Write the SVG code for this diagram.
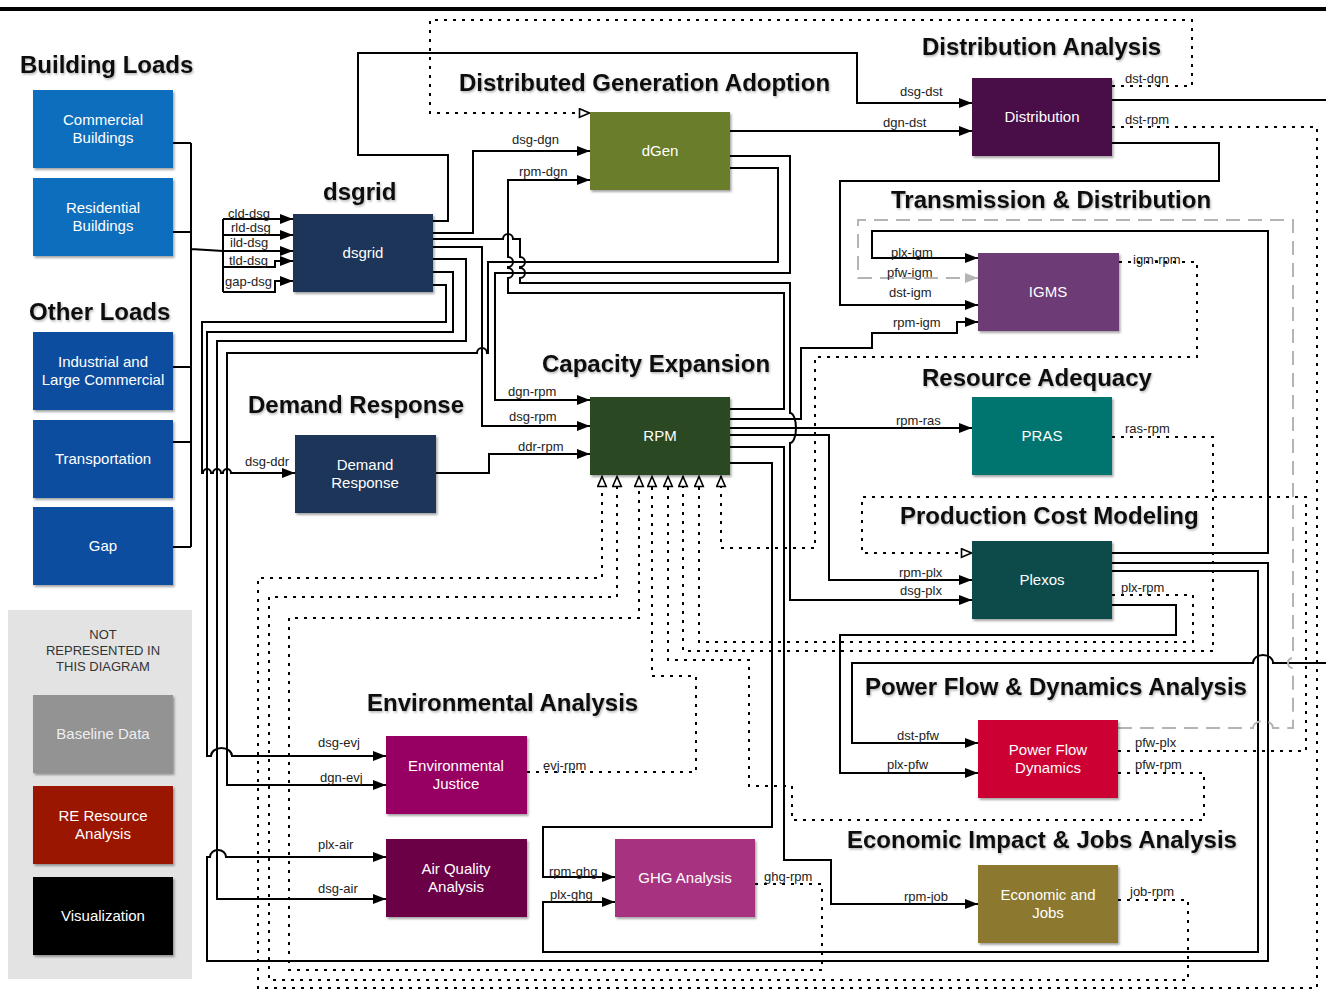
<svg xmlns="http://www.w3.org/2000/svg" width="1326" height="992" viewBox="0 0 1326 992">
<defs>
<style>
.c{fill:none;stroke:#000;stroke-width:2;stroke-linejoin:miter}
.s{marker-end:url(#ah)}
.d{stroke-dasharray:3 6;marker-end:url(#oh)}
.g{stroke:#b4b4b4;stroke-dasharray:14 8;marker-end:url(#gh)}
.lbl{font-family:"Liberation Sans",Arial,sans-serif;font-size:13px;fill:#222}
.ttl{font-family:"Liberation Sans",Arial,sans-serif;font-size:24px;font-weight:bold;fill:#111;filter:url(#ts)}
.nt{font-family:"Liberation Sans",Arial,sans-serif;font-size:15px;fill:#fff;text-anchor:middle}
.box{filter:url(#ds)}
.leg{font-family:"Liberation Sans",Arial,sans-serif;font-size:13px;fill:#333;text-anchor:middle}
</style>
<marker id="ah" markerUnits="userSpaceOnUse" markerWidth="14" markerHeight="12" viewBox="0 0 14 12" refX="13" refY="6" orient="auto"><path d="M0,1 L13,6 L0,11 z" fill="#000"/></marker>
<marker id="oh" markerUnits="userSpaceOnUse" markerWidth="13" markerHeight="11" viewBox="0 0 13 11" refX="12" refY="5.5" orient="auto"><path d="M1.5,1.2 L11.5,5.5 L1.5,9.8 z" fill="#fff" stroke="#000" stroke-width="1.6"/></marker>
<marker id="gh" markerUnits="userSpaceOnUse" markerWidth="14" markerHeight="12" viewBox="0 0 14 12" refX="13" refY="6" orient="auto"><path d="M0,1 L13,6 L0,11 z" fill="#b4b4b4"/></marker>
<filter id="ds" x="-10%" y="-10%" width="125%" height="130%"><feDropShadow dx="1.5" dy="2" stdDeviation="1.2" flood-color="#000" flood-opacity="0.35"/></filter>
<filter id="ts" x="-5%" y="-20%" width="110%" height="150%"><feDropShadow dx="1" dy="1.5" stdDeviation="1" flood-color="#000" flood-opacity="0.3"/></filter>
</defs>
<rect x="0" y="0" width="1326" height="992" fill="#fff"/>
<line x1="0" y1="9" x2="1326" y2="9" stroke="#000" stroke-width="4"/>
<rect id="legend-panel" x="8" y="610" width="184" height="369" fill="#e3e3e3"/>

<g id="titles">
<text class="ttl" x="20" y="73">Building Loads</text>
<text class="ttl" x="29" y="320">Other Loads</text>
<text class="ttl" x="323" y="200">dsgrid</text>
<text class="ttl" x="459" y="91">Distributed Generation Adoption</text>
<text class="ttl" x="922" y="55">Distribution Analysis</text>
<text class="ttl" x="891" y="208">Transmission &amp; Distribution</text>
<text class="ttl" x="542" y="372">Capacity Expansion</text>
<text class="ttl" x="248" y="413">Demand Response</text>
<text class="ttl" x="922" y="386">Resource Adequacy</text>
<text class="ttl" x="900" y="524">Production Cost Modeling</text>
<text class="ttl" x="865" y="695">Power Flow &amp; Dynamics Analysis</text>
<text class="ttl" x="367" y="711">Environmental Analysis</text>
<text class="ttl" x="847" y="848">Economic Impact &amp; Jobs Analysis</text>
</g>

<g id="connectors">
<path class="c" d="M173,143 H191 M173,232 H191 M173,367 H191 M173,442 H191 M173,547 H191 M191,143 V547 M191,249 L223,251 M223,219 V292"/>
<path class="c s" d="M223,219 H293"/>
<path class="c s" d="M223,235 H293"/>
<path class="c s" d="M223,251 H293"/>
<path class="c s" d="M223,267 H275 V261 H293"/>
<path class="c s" d="M223,292 H275 V281 H293"/>
<path class="c s" d="M432,221 H448 V155 H358 V53 H857 V103 H972"/>
<path class="c s" d="M432,233 H473 V151 H590"/>
<path class="c s" d="M432,239 H503 A5,5 0 0 1 513,239 H520 V257 A5,5 0 0 1 520,267 V268 A5,5 0 0 1 520,278 V283 H790 V413 A6,15 0 0 1 790,443 V600 H972"/>
<path class="c s" d="M432,247 H482 V426 H590"/>
<path class="c s" d="M432,259 H466 V341 H217 V899 H386"/>
<path class="c s" d="M432,272 H453 V332 H207 V756 H211 A10.5,8 0 0 1 232,756 H386"/>
<path class="c s" d="M432,285 H446 V322 H202 V473 H203 A4,4 0 0 1 211,473 H213 A4,4 0 0 1 221,473 H223 A4,4 0 0 1 231,473 H295"/>
<path class="c s" d="M730,131 H972"/>
<path class="c s" d="M730,156 H790 V273 H495 V400 H590"/>
<path class="c s" d="M730,168 H778 V262 H488 V353 H487 A5,5 0 0 0 477,353 H227 V785 H386"/>
<path class="c s" d="M730,409 H784 V293 H508 V278 A5,5 0 0 0 508,268 V267 A5,5 0 0 0 508,257 V180 H590"/>
<path class="c s" d="M730,419 H801 V348 H872 V333 H957 V322 H978"/>
<path class="c s" d="M730,428 H972"/>
<path class="c s" d="M730,435 H829 V580 H972"/>
<path class="c s" d="M730,447 H784 V860 H831 V904 H978"/>
<path class="c s" d="M730,463 H772 V827 H543 V877 H615"/>
<path class="c s" d="M436,473 H489 V454 H590"/>
<path class="c s" d="M1112,100 H1345 V663 H1273 A10,8 0 0 0 1253,663 H852 V743 H978"/>
<path class="c s" d="M1112,143 H1219 V181 H840 V305 H978"/>
<path class="c s" d="M1112,553 H1268 V231 H872 V258 H978"/>
<path class="c s" d="M1112,563 H1268 V961 H207 V857 H210 A8,7 0 0 1 226,857 H386"/>
<path class="c s" d="M1112,571 H1258 V952 H543 V902 H615"/>
<path class="c s" d="M1112,605 H1176 V635 H840 V773 H978"/>

<path class="c d" d="M1112,86 H1192 V20 H430 V113 H590"/>
<path class="c d" d="M1112,127 H1317 V988 H258 V578 H602 V476"/>
<path class="c d" d="M1119,262 H1197 V357 H815 V548 H721 V476"/>
<path class="c d" d="M1112,437 H1213 V651 H683 V476"/>
<path class="c d" d="M1112,595 H1193 V642 H699 V476"/>
<path class="c d" d="M1118,773 H1204 V820 H792 V786 H749 V660 H668 V476"/>
<path class="c d" d="M527,772 H696 V676 H652 V476"/>
<path class="c d" d="M755,884 H822 V970 H289 V618 H639 V476"/>
<path class="c d" d="M1118,900 H1188 V980 H269 V597 H617 V476"/>
<path class="c d" d="M1118,751 H1306 V497 H862 V553 H972"/>

<path class="c g" d="M1118,728 H1253 A10,7 0 0 1 1273,728 H1293 V668 A5,5 0 0 1 1293,658 V220 H858 V278 H978"/>

<g id="connector-labels">
<text class="lbl" x="228" y="218">cld-dsg</text>
<text class="lbl" x="231" y="232">rld-dsg</text>
<text class="lbl" x="230" y="247">ild-dsg</text>
<text class="lbl" x="229" y="265">tld-dsg</text>
<text class="lbl" x="225" y="286">gap-dsg</text>
<text class="lbl" x="512" y="144">dsg-dgn</text>
<text class="lbl" x="519" y="176">rpm-dgn</text>
<text class="lbl" x="900" y="96">dsg-dst</text>
<text class="lbl" x="883" y="127">dgn-dst</text>
<text class="lbl" x="1125" y="83">dst-dgn</text>
<text class="lbl" x="1125" y="124">dst-rpm</text>
<text class="lbl" x="891" y="257">plx-igm</text>
<text class="lbl" x="887" y="277">pfw-igm</text>
<text class="lbl" x="889" y="297">dst-igm</text>
<text class="lbl" x="893" y="327">rpm-igm</text>
<text class="lbl" x="1133" y="264">igm-rpm</text>
<text class="lbl" x="508" y="396">dgn-rpm</text>
<text class="lbl" x="509" y="421">dsg-rpm</text>
<text class="lbl" x="518" y="451">ddr-rpm</text>
<text class="lbl" x="245" y="466">dsg-ddr</text>
<text class="lbl" x="896" y="425">rpm-ras</text>
<text class="lbl" x="899" y="577">rpm-plx</text>
<text class="lbl" x="900" y="595">dsg-plx</text>
<text class="lbl" x="1125" y="433">ras-rpm</text>
<text class="lbl" x="1121" y="592">plx-rpm</text>
<text class="lbl" x="318" y="747">dsg-evj</text>
<text class="lbl" x="320" y="782">dgn-evj</text>
<text class="lbl" x="318" y="849">plx-air</text>
<text class="lbl" x="318" y="893">dsg-air</text>
<text class="lbl" x="543" y="770">evj-rpm</text>
<text class="lbl" x="549" y="876">rpm-ghg</text>
<text class="lbl" x="550" y="899">plx-ghg</text>
<text class="lbl" x="764" y="881">ghg-rpm</text>
<text class="lbl" x="897" y="740">dst-pfw</text>
<text class="lbl" x="887" y="769">plx-pfw</text>
<text class="lbl" x="1135" y="747">pfw-plx</text>
<text class="lbl" x="1135" y="769">pfw-rpm</text>
<text class="lbl" x="904" y="901">rpm-job</text>
<text class="lbl" x="1130" y="896">job-rpm</text>
</g>
</g>

<g id="node-commercial"><rect class="box" x="33" y="90" width="140" height="78" fill="#0a6ebd"/><text class="nt" x="103" y="125">Commercial</text><text class="nt" x="103" y="143">Buildings</text></g>
<g id="node-residential"><rect class="box" x="33" y="178" width="140" height="78" fill="#0a6ebd"/><text class="nt" x="103" y="213">Residential</text><text class="nt" x="103" y="231">Buildings</text></g>
<g id="node-industrial"><rect class="box" x="33" y="332" width="140" height="78" fill="#0d4d9f"/><text class="nt" x="103" y="367">Industrial and</text><text class="nt" x="103" y="385">Large Commercial</text></g>
<g id="node-transportation"><rect class="box" x="33" y="420" width="140" height="78" fill="#0d4d9f"/><text class="nt" x="103" y="464">Transportation</text></g>
<g id="node-gap"><rect class="box" x="33" y="507" width="140" height="78" fill="#0d4d9f"/><text class="nt" x="103" y="551">Gap</text></g>

<g id="legend">
<text class="leg" x="103" y="639">NOT</text>
<text class="leg" x="103" y="655">REPRESENTED IN</text>
<text class="leg" x="103" y="671">THIS DIAGRAM</text>
<g id="node-baseline"><rect class="box" x="33" y="695" width="140" height="78" fill="#939393"/><text class="nt" x="103" y="739" fill="#eee" style="fill:#eee">Baseline Data</text></g>
<g id="node-re"><rect class="box" x="33" y="786" width="140" height="78" fill="#9b1400"/><text class="nt" x="103" y="821">RE Resource</text><text class="nt" x="103" y="839">Analysis</text></g>
<g id="node-visualization"><rect class="box" x="33" y="877" width="140" height="78" fill="#000"/><text class="nt" x="103" y="921">Visualization</text></g>
</g>

<g id="node-dsgrid"><rect class="box" x="293" y="214" width="140" height="78" fill="#1c3459"/><text class="nt" x="363" y="258">dsgrid</text></g>
<g id="node-dgen"><rect class="box" x="590" y="112" width="140" height="78" fill="#6b7d2c"/><text class="nt" x="660" y="156">dGen</text></g>
<g id="node-distribution"><rect class="box" x="972" y="78" width="140" height="78" fill="#4a0b47"/><text class="nt" x="1042" y="122">Distribution</text></g>
<g id="node-igms"><rect class="box" x="978" y="253" width="141" height="78" fill="#6d3b74"/><text class="nt" x="1048" y="297">IGMS</text></g>
<g id="node-rpm"><rect class="box" x="590" y="397" width="140" height="78" fill="#2b4923"/><text class="nt" x="660" y="441">RPM</text></g>
<g id="node-demand-response"><rect class="box" x="295" y="435" width="141" height="78" fill="#1c3459"/><text class="nt" x="365" y="470">Demand</text><text class="nt" x="365" y="488">Response</text></g>
<g id="node-pras"><rect class="box" x="972" y="397" width="140" height="78" fill="#067470"/><text class="nt" x="1042" y="441">PRAS</text></g>
<g id="node-plexos"><rect class="box" x="972" y="541" width="140" height="78" fill="#074c4b"/><text class="nt" x="1042" y="585">Plexos</text></g>
<g id="node-pfd"><rect class="box" x="978" y="720" width="140" height="78" fill="#cc0033"/><text class="nt" x="1048" y="755">Power Flow</text><text class="nt" x="1048" y="773">Dynamics</text></g>
<g id="node-ej"><rect class="box" x="386" y="736" width="141" height="78" fill="#970062"/><text class="nt" x="456" y="771">Environmental</text><text class="nt" x="456" y="789">Justice</text></g>
<g id="node-aq"><rect class="box" x="386" y="839" width="141" height="78" fill="#6c0046"/><text class="nt" x="456" y="874">Air Quality</text><text class="nt" x="456" y="892">Analysis</text></g>
<g id="node-ghg"><rect class="box" x="615" y="839" width="140" height="78" fill="#a7317f"/><text class="nt" x="685" y="883">GHG Analysis</text></g>
<g id="node-econ"><rect class="box" x="978" y="865" width="140" height="78" fill="#8c782d"/><text class="nt" x="1048" y="900">Economic and</text><text class="nt" x="1048" y="918">Jobs</text></g>
</svg>
